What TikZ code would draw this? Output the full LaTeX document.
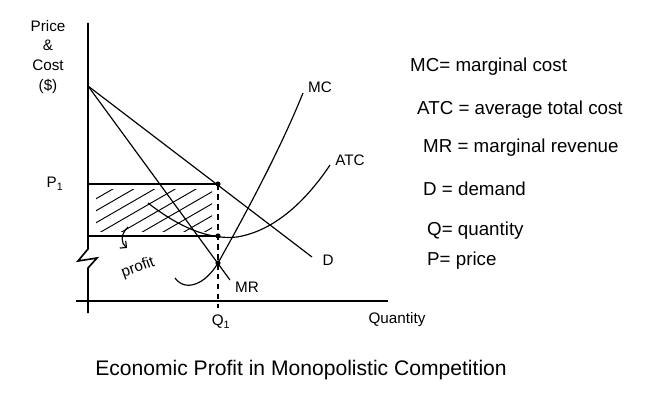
\documentclass[tikz,border=0pt]{standalone}
\usepackage{fontspec}
\setmainfont{Liberation Sans}
\usetikzlibrary{arrows.meta}

\begin{document}
\begin{tikzpicture}[x=0.03cm,y=-0.03cm,
    curva/.style={line width=1pt},
    eje/.style={line width=1.4pt},
    etiq/.style={font=\fontsize{13}{17}\selectfont, inner sep=1pt},
    leyenda/.style={font=\fontsize{16}{19}\selectfont, anchor=west, inner sep=0pt},
    titulo/.style={font=\fontsize{18}{21}\selectfont, inner sep=0pt}]
    \useasboundingbox (0,0) rectangle (653,405);
    % Puntos principales
    \coordinate (a) at (88,86);
    \coordinate (dfin) at (312,257);
    \coordinate (mrfin) at (230,280);
    \coordinate (p1) at (88,184);
    \coordinate (c0) at (88,236);
    \coordinate (e) at (218,184);
    \coordinate (c) at (218,236);
    \coordinate (m) at (218,263);
    % Ejes
    \draw[eje] (88,23) -- (88,249) -- (78,261) -- (97,258) -- (88,268) -- (88,313);
    \draw[eje] (76,301) -- (388,301);
    % Area de beneficio (rayada)
    \begin{scope}
        \clip (96,190) rectangle (212,232);
        \foreach \i in {0,...,9}
            \draw[line width=0.8pt] (80,196+12*\i) -- ++(200,-115.5);
    \end{scope}
    % Curvas
    \draw[curva] (a) -- (dfin);
    \draw[curva] (a) -- (mrfin);
    \draw[curva] (p1) -- (e);
    \draw[curva] (c0) -- (c);
    \draw[curva] (175,278) .. controls (185,292) and (205,285) .. (m)
        .. controls (245,215) and (280,150) .. (303,93);
    \draw[curva] (148,203) .. controls (180,228) and (210,240) .. (237,237)
        .. controls (280,230) and (312,192) .. (330,165);
    \draw[curva, dash pattern=on 5pt off 3.5pt] (e) -- (218,308);
    \fill (e) circle (2.2pt);
    \fill (c) circle (2.2pt);
    \fill (m) circle (2.2pt);
    \draw[curva, -{Straight Barb[length=4pt]}] (128,227) .. controls (120,235) and (121,243) .. (127,248);
    % Etiquetas
    \node[etiq, align=center] (ylab) at (48,57) {Price\\\&\\Cost\\(\$)};
    \node[etiq] (plab) at (55,184) {P\textsubscript{1}};
    \node[etiq] (qlab) at (221,322) {Q\textsubscript{1}};
    \node[etiq] (xlab) at (397,320) {Quantity};
    \node[etiq] (mclab) at (320,87) {MC};
    \node[etiq] (atclab) at (350,160) {ATC};
    \node[etiq] (mrlab) at (247,287) {MR};
    \node[etiq] (dlab) at (328,260) {D};
    \node[etiq, inner sep=0pt, rotate=20] (profit) at (138,268) {profit};
    % Leyenda
    \node[leyenda] (mcdef) at (410,67) {MC= marginal cost};
    \node[leyenda] (atcdef) at (417,110) {ATC = average total cost};
    \node[leyenda] (mrdef) at (423,148) {MR = marginal revenue};
    \node[leyenda] (ddef) at (423,189) {D = demand};
    \node[leyenda] (qdef) at (427,231) {Q= quantity};
    \node[leyenda] (pdef) at (427,261) {P= price};
    \node[titulo] (titulo) at (301,370) {Economic Profit in Monopolistic Competition};
\end{tikzpicture}
\end{document}
